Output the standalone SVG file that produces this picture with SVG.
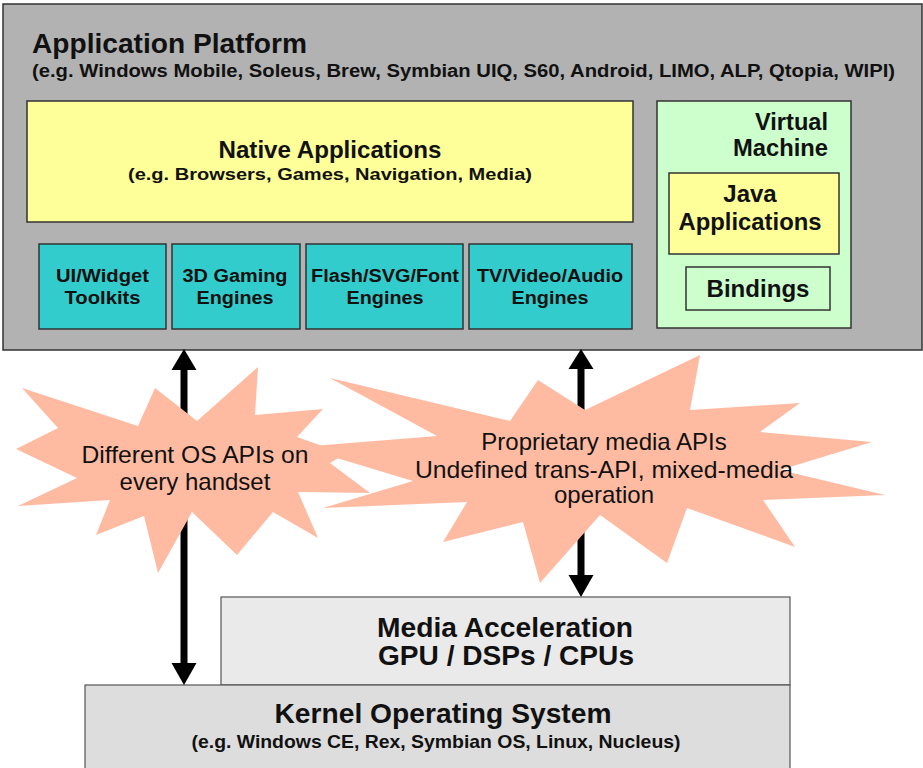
<svg xmlns="http://www.w3.org/2000/svg" width="923" height="768" viewBox="0 0 923 768">
<style>
.box{stroke:#333;stroke-width:1.5}
.plat{fill:#B2B2B2}
.yel{fill:#FFFF99}
.teal{fill:#33CCCC}
.grn{fill:#CCFFCC}
.hw{fill:#EAEAEA;stroke:#555;stroke-width:1.2}
.kern{fill:#DDDDDD;stroke:#555;stroke-width:1.2}
.star{fill:#FFBBA2}
.arrow{fill:#000}
text{font-family:"Liberation Sans",Arial,sans-serif;fill:#111}
.b{font-weight:bold}
.c{text-anchor:middle}
.e{text-anchor:end}
</style>
<g id="platform">
<rect class="box plat" x="3" y="4" width="919" height="346"/>
<text class="b" x="32" y="53" font-size="28" textLength="275" lengthAdjust="spacingAndGlyphs">Application Platform</text>
<text class="b" x="32" y="77" font-size="18" textLength="863" lengthAdjust="spacingAndGlyphs">(e.g. Windows Mobile, Soleus, Brew, Symbian UIQ, S60, Android, LIMO, ALP, Qtopia, WIPI)</text>
</g>
<g id="native-apps">
<rect class="box yel" x="27" y="101" width="606" height="121"/>
<text class="b c" x="330" y="158" font-size="24" textLength="223" lengthAdjust="spacingAndGlyphs">Native Applications</text>
<text class="b c" x="330" y="180" font-size="17" textLength="404" lengthAdjust="spacingAndGlyphs">(e.g. Browsers, Games, Navigation, Media)</text>
</g>
<g id="ui-widget">
<rect class="box teal" x="39" y="244" width="127" height="85"/>
<text class="b c" x="102.5" y="282" font-size="18" textLength="93" lengthAdjust="spacingAndGlyphs">UI/Widget</text>
<text class="b c" x="102.5" y="304" font-size="18" textLength="76" lengthAdjust="spacingAndGlyphs">Toolkits</text>
</g>
<g id="gaming">
<rect class="box teal" x="172" y="244" width="128" height="85"/>
<text class="b c" x="235" y="282" font-size="18" textLength="105" lengthAdjust="spacingAndGlyphs">3D Gaming</text>
<text class="b c" x="235" y="304" font-size="18" textLength="77" lengthAdjust="spacingAndGlyphs">Engines</text>
</g>
<g id="flash">
<rect class="box teal" x="306" y="244" width="157" height="85"/>
<text class="b c" x="385" y="282" font-size="18" textLength="148" lengthAdjust="spacingAndGlyphs">Flash/SVG/Font</text>
<text class="b c" x="385" y="304" font-size="18" textLength="77" lengthAdjust="spacingAndGlyphs">Engines</text>
</g>
<g id="tv">
<rect class="box teal" x="469" y="244" width="163" height="85"/>
<text class="b c" x="550" y="282" font-size="18" textLength="146" lengthAdjust="spacingAndGlyphs">TV/Video/Audio</text>
<text class="b c" x="550" y="304" font-size="18" textLength="77" lengthAdjust="spacingAndGlyphs">Engines</text>
</g>
<g id="vm">
<rect class="box grn" x="657" y="101" width="194" height="227"/>
<text class="b e" x="828" y="130" font-size="24" textLength="73" lengthAdjust="spacingAndGlyphs">Virtual</text>
<text class="b e" x="828" y="156" font-size="24" textLength="95" lengthAdjust="spacingAndGlyphs">Machine</text>
</g>
<g id="java">
<rect class="box yel" x="669" y="173" width="170" height="81"/>
<text class="b c" x="750" y="202" font-size="24">Java</text>
<text class="b c" x="750" y="230" font-size="24" textLength="143" lengthAdjust="spacingAndGlyphs">Applications</text>
</g>
<g id="bindings">
<rect class="box grn" x="686" y="267" width="144" height="43"/>
<text class="b c" x="758" y="297" font-size="24" textLength="103" lengthAdjust="spacingAndGlyphs">Bindings</text>
</g>
<g id="media-accel">
<rect class="hw" x="221" y="597" width="569" height="88"/>
<text class="b c" x="505" y="637" font-size="28" textLength="256" lengthAdjust="spacingAndGlyphs">Media Acceleration</text>
<text class="b c" x="506" y="665" font-size="28" textLength="256" lengthAdjust="spacingAndGlyphs">GPU / DSPs / CPUs</text>
</g>
<g id="kernel">
<rect class="kern" x="85" y="685" width="705" height="90"/>
<text class="b c" x="443" y="723" font-size="28" textLength="337" lengthAdjust="spacingAndGlyphs">Kernel Operating System</text>
<text class="b c" x="436" y="748" font-size="19" textLength="489" lengthAdjust="spacingAndGlyphs">(e.g. Windows CE, Rex, Symbian OS, Linux, Nucleus)</text>
</g>
<g id="connectors">
<path class="arrow" d="M184,349 L196.5,370 L187.5,370 L187.5,663 L196.5,663 L184,685 L171.5,663 L180.5,663 L180.5,370 L171.5,370 Z"/>
<path class="arrow" d="M581,349 L593.5,369 L584.5,369 L584.5,575 L593.5,575 L581,597 L568.5,575 L577.5,575 L577.5,369 L568.5,369 Z"/>
</g>
<g id="os-apis">
<polygon class="star" points="22,388 138,426 155,388 197,421 258,367 255,415 323,409 297,437 345,454 330,463 370,493 298,492 318,538 273,512 237,555 192,512 158,573 144,516 96,535 110,500 18,506 77,478 16,449 58,428"/>
<text class="c" x="195" y="463" font-size="24" textLength="227" lengthAdjust="spacingAndGlyphs">Different OS APIs on</text>
<text class="c" x="195" y="490" font-size="24">every handset</text>
</g>
<g id="media-apis">
<polygon class="star" points="330,378 510,421 538,380 585,410 700,355 690,410 800,403 760,432 872,442 780,470 885,495 763,500 795,547 687,508 667,563 600,515 540,583 523,522 443,542 467,502 323,508 413,481 300,447 437,436"/>
<text class="c" x="604" y="450" font-size="24">Proprietary media APIs</text>
<text class="c" x="604" y="478" font-size="24" textLength="378" lengthAdjust="spacingAndGlyphs">Undefined trans-API, mixed-media</text>
<text class="c" x="604" y="503" font-size="24">operation</text>
</g>
</svg>
